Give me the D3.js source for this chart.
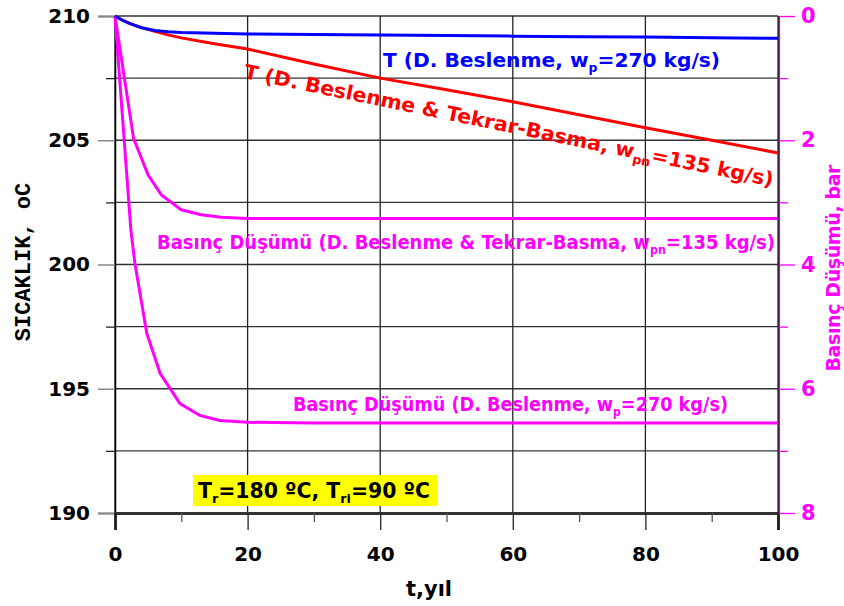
<!DOCTYPE html>
<html>
<head>
<meta charset="utf-8">
<script src="https://cdn.jsdelivr.net/npm/d3@7"></script>
<style>
  body { margin: 0; background: #fff; }
  text { font-family: "DejaVu Sans", sans-serif; font-weight: bold; }
</style>
</head>
<body>
<div id="chart"></div>
<script>

// data
var tTemp = [0, 1, 2, 3, 4, 6, 8, 10, 15, 20, 30, 40, 50, 60, 70, 80, 90, 100];
var tempFeed = [210, 209.85, 209.72, 209.62, 209.53, 209.42, 209.37, 209.34, 209.31, 209.28, 209.26, 209.24, 209.22, 209.19, 209.17, 209.15, 209.12, 209.1];
var tempReinj = [210, 209.85, 209.72, 209.62, 209.53, 209.38, 209.24, 209.12, 208.88, 208.67, 208.07, 207.5, 207.03, 206.55, 206.03, 205.5, 205.0, 204.49];

var tDropReinj = [0, 2.8, 5, 7, 10, 13, 16, 20, 30, 40, 50, 60, 70, 80, 90, 100];
var dropReinj = [0, 1.97, 2.56, 2.88, 3.12, 3.2, 3.24, 3.26, 3.26, 3.26, 3.26, 3.26, 3.26, 3.26, 3.26, 3.26];

var tDropFeed = [0, 2.4, 3, 4.8, 6.8, 9.8, 12.8, 15.8, 20, 30, 40, 50, 60, 70, 80, 90, 100];
var dropFeed = [0, 3.45, 3.98, 5.11, 5.75, 6.24, 6.43, 6.51, 6.54, 6.55, 6.55, 6.55, 6.55, 6.55, 6.55, 6.55, 6.55];

var xTicks = [0, 20, 40, 60, 80, 100];
var xMinor = [10, 30, 50, 70, 90];
var yTicks = [190, 195, 200, 205, 210];
var yMinor = [192.5, 197.5, 202.5, 207.5];
var rTicks = [0, 2, 4, 6, 8];
var rMinor = [1, 3, 5, 7];

var W = 844, H = 606;
var margin = {top: 16, right: 66, bottom: 93, left: 115},
    width = W - margin.left - margin.right,
    height = H - margin.top - margin.bottom;

var svg = d3.select("#chart")
  .append("svg")
    .attr("width", W)
    .attr("height", H);

var g = svg.append("g")
    .attr("transform", "translate(" + margin.left + "," + margin.top + ")");

var x = d3.scaleLinear().domain([0, 100]).range([0, width]);
var y = d3.scaleLinear().domain([190, 210]).range([height, 0]);
var yR = d3.scaleLinear().domain([0, 8]).range([0, height]);

// grid
g.selectAll(".hgrid")
  .data(yTicks.concat(yMinor))
  .enter().append("line")
    .attr("x1", 0).attr("x2", width)
    .attr("y1", function(d) { return y(d); })
    .attr("y2", function(d) { return y(d); })
    .attr("stroke", "#333").attr("stroke-width", 1.3);
g.selectAll(".vgrid")
  .data(xTicks)
  .enter().append("line")
    .attr("y1", 0).attr("y2", height)
    .attr("x1", function(d) { return x(d); })
    .attr("x2", function(d) { return x(d); })
    .attr("stroke", "#222").attr("stroke-width", 1.3);

// left axis
var left = g.append("g")
  .call(d3.axisLeft(y).tickValues(yTicks).tickSize(17).tickPadding(8).tickFormat(d3.format("d")));
left.select(".domain").attr("stroke", "#000").attr("stroke-width", 1.5);
left.selectAll(".tick line").attr("stroke", "#888").attr("stroke-width", 1.5);
left.selectAll("text").style("font-size", "20px").attr("fill", "#000");
g.append("g")
  .call(d3.axisLeft(y).tickValues(yMinor).tickSize(9).tickFormat(""))
  .call(function(s) { s.select(".domain").remove(); })
  .selectAll(".tick line").attr("stroke", "#222").attr("stroke-width", 1.3);

// bottom axis
var bottom = g.append("g")
  .attr("transform", "translate(0," + height + ")")
  .call(d3.axisBottom(x).tickValues(xTicks).tickSize(17).tickPadding(17));
bottom.select(".domain").attr("stroke", "#333").attr("stroke-width", 3);
bottom.selectAll(".tick line").attr("stroke", "#222").attr("stroke-width", 1.3);
bottom.selectAll("text").style("font-size", "20px").attr("fill", "#000");
g.append("g")
  .attr("transform", "translate(0," + height + ")")
  .call(d3.axisBottom(x).tickValues(xMinor).tickSize(9).tickFormat(""))
  .call(function(s) { s.select(".domain").remove(); })
  .selectAll(".tick line").attr("stroke", "#555").attr("stroke-width", 1.3);

// right axis (pressure drop)
g.append("line")
  .attr("x1", width + 1).attr("x2", width + 1)
  .attr("y1", 0).attr("y2", height)
  .attr("stroke", "#000").attr("stroke-width", 1.2);
var right = g.append("g")
  .attr("transform", "translate(" + (width + 1) + ",0)")
  .call(d3.axisRight(yR).tickValues(rTicks).tickSize(16).tickPadding(6).tickFormat(d3.format("d")));
right.select(".domain").attr("stroke", "#cc00cc").attr("stroke-width", 1.2);
right.selectAll(".tick line").attr("stroke", "#ff00ff").attr("stroke-width", 1.3);
right.selectAll("text").style("font-size", "21px").attr("fill", "#ff00ff");
g.append("g")
  .attr("transform", "translate(" + (width + 1) + ",0)")
  .call(d3.axisRight(yR).tickValues(rMinor).tickSize(9).tickFormat(""))
  .call(function(s) { s.select(".domain").remove(); })
  .selectAll(".tick line").attr("stroke", "#ff00ff").attr("stroke-width", 1.3);

// lines
var lineT = d3.line()
  .x(function(d) { return x(d[0]); })
  .y(function(d) { return y(d[1]); });
var lineP = d3.line()
  .x(function(d) { return x(d[0]); })
  .y(function(d) { return yR(d[1]); });

g.append("path")
  .datum(d3.zip(tDropReinj, dropReinj))
  .attr("d", lineP).attr("fill", "none").attr("stroke", "#ff00ff").attr("stroke-width", 3);
g.append("path")
  .datum(d3.zip(tDropFeed, dropFeed))
  .attr("d", lineP).attr("fill", "none").attr("stroke", "#ff00ff").attr("stroke-width", 3);
g.append("path")
  .datum(d3.zip(tTemp, tempReinj))
  .attr("d", lineT).attr("fill", "none").attr("stroke", "#ff0000").attr("stroke-width", 3);
g.append("path")
  .datum(d3.zip(tTemp, tempFeed))
  .attr("d", lineT).attr("fill", "none").attr("stroke", "#0000ff").attr("stroke-width", 3);

// labels with subscripts
function label(parent, parts, color, size, len) {
  var t = parent.append("text")
    .attr("fill", color)
    .style("font-size", size + "px");
  parts.forEach(function(p) {
    var s = t.append("tspan").text(p[0]);
    if (p[1] === "sub") s.attr("dy", 5).style("font-size", (size * 0.62) + "px");
    if (p[1] === "back") s.attr("dy", -5);
  });
  if (len) t.attr("textLength", len).attr("lengthAdjust", "spacingAndGlyphs");
  return t;
}

label(svg, [["T (D. Beslenme, w"], ["p", "sub"], ["=270 kg/s)", "back"]], "#0000ff", 20, 337)
  .attr("x", 383).attr("y", 67);

label(svg, [["T (D. Beslenme & Tekrar-Basma, w"], ["pn", "sub"], ["=135 kg/s)", "back"]], "#ff0000", 20, 540)
  .attr("transform", "translate(243,78) rotate(11.6)");

label(svg, [["Basınç Düşümü (D. Beslenme & Tekrar-Basma, w"], ["pn", "sub"], ["=135 kg/s)", "back"]], "#ff00ff", 19, 618)
  .attr("x", 157).attr("y", 249);

label(svg, [["Basınç Düşümü (D. Beslenme, w"], ["p", "sub"], ["=270 kg/s)", "back"]], "#ff00ff", 19, 435)
  .attr("x", 293).attr("y", 411);

// yellow box
svg.append("rect")
  .attr("x", 193).attr("y", 475).attr("width", 244).attr("height", 31)
  .attr("fill", "#ffff00");
label(svg, [["T"], ["r", "sub"], ["=180 ºC, T", "back"], ["ri", "sub"], ["=90 ºC", "back"]], "#000", 21, 232)
  .attr("x", 198).attr("y", 498);

// axis titles
svg.append("text")
  .attr("transform", "translate(429,596)")
  .attr("text-anchor", "middle")
  .style("font-size", "21px")
  .text("t,yıl");

svg.append("text")
  .attr("transform", "translate(30,262) rotate(-90)")
  .attr("text-anchor", "middle")
  .style("font-family", "'Liberation Mono', monospace")
  .style("font-size", "22px")
  .text("SICAKLIK, oC");

svg.append("text")
  .attr("transform", "translate(840,268) rotate(-90)")
  .attr("text-anchor", "middle")
  .attr("fill", "#ff00ff")
  .style("font-size", "19px")
  .attr("textLength", 207)
  .text("Basınç Düşümü, bar");

</script>
</body>
</html>
